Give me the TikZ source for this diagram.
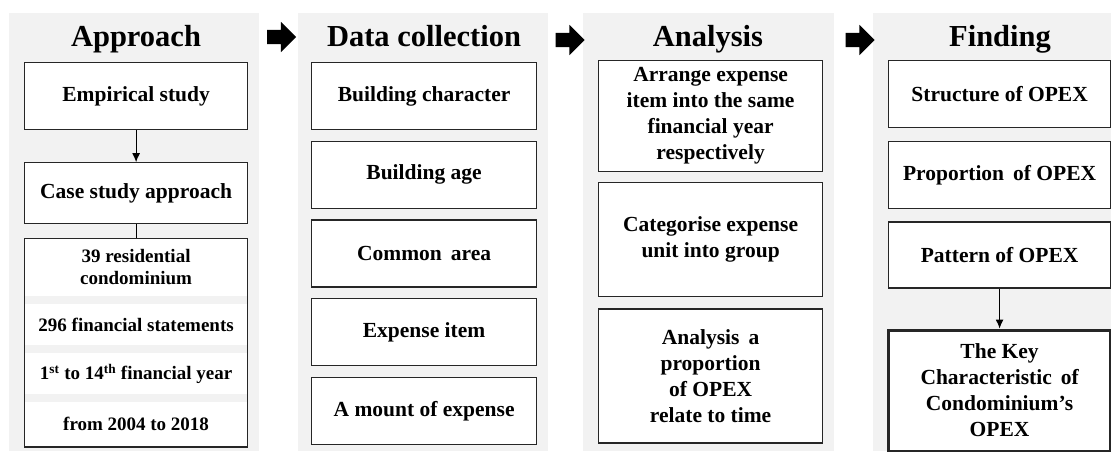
\documentclass[tikz,border=0pt]{standalone}
\usepackage{fontspec}
\setmainfont{Liberation Serif}
\definecolor{panelgray}{RGB}{242,242,242}
\tikzstyle{panel}=[rectangle,fill=panelgray,inner sep=0pt,anchor=north west]
\tikzstyle{title}=[font=\fontsize{30.5}{34}\selectfont\bfseries,anchor=base]
\tikzstyle{box}=[rectangle,draw=black!85,line width=1.2pt,fill=white,
align=center,inner sep=2pt,font=\fontsize{21.5}{26}\selectfont\bfseries]
\tikzstyle{keybox}=[box,line width=3pt]
\tikzstyle{row}=[rectangle,fill=white,align=center,inner sep=2pt,
minimum width=223pt,font=\fontsize{19}{22}\selectfont\bfseries]
\tikzstyle{flow}=[single arrow,fill=black,inner sep=7pt,
single arrow head extend=8pt,minimum height=29pt]
\tikzstyle{link}=[-{Latex[length=9pt,width=8pt]},line width=1.2pt]
\usetikzlibrary{arrows.meta,positioning,shapes.arrows,fit}

\begin{document}
\begin{tikzpicture}[x=1pt,y=-1pt,node distance=10pt]
            \useasboundingbox (0,0) rectangle (1111,452);

            % PANELS
            \node[panel,minimum width=250pt,minimum height=438pt] (bg1) at (9,13) {};
            \node[panel,minimum width=250pt,minimum height=438pt] (bg2) at (298,13) {};
            \node[panel,minimum width=251pt,minimum height=438pt] (bg3) at (583,13) {};
            \node[panel,minimum width=238pt,minimum height=438pt] (bg4) at (873,13) {};

            \node[flow] (go1) at (278,37) {};
            \node[flow] (go2) at (566.5,40) {};
            \node[flow] (go3) at (856.5,40) {};

            % APPROACH PART

            \node[title] (tapp) at (136,47) {Approach};
            \node[box,anchor=north west,minimum width=223pt,minimum height=67pt] (emp) at (24,62) {Empirical study};
            \node[box,below=32pt of emp,minimum width=223pt,minimum height=61pt] (case) {Case study approach};
            \node[row,below=14pt of case,minimum height=57pt] (r1) {39 residential\\condominium};
            \node[row,below=8pt of r1,minimum height=41pt] (r2) {296 financial statements};
            \node[row,below=8pt of r2,minimum height=41pt] (r3) {1\textsuperscript{st} to 14\textsuperscript{th} financial year};
            \node[row,below=7pt of r3,minimum height=45pt] (r4) {from 2004 to 2018};
            \node[draw=black!85,line width=1.2pt,inner sep=0pt,fit=(r1)(r4)] (facts) {};

            \path[link] (emp) edge node {} (case);
            \path[line width=1.2pt] (case) edge node {} (facts);

            % DATA COLLECTION PART

            \node[title] (tdat) at (424,47) {Data collection};
            \node[box,anchor=north west,minimum width=225pt,minimum height=67pt] (dc1) at (311,62) {Building character};
            \node[box,below=10.5pt of dc1,minimum width=225pt,minimum height=67pt] (dc2) {Building age};
            \node[box,below=10.5pt of dc2,minimum width=225pt,minimum height=67pt] (dc3) {Common\, area};
            \node[box,below=10.5pt of dc3,minimum width=225pt,minimum height=67pt] (dc4) {Expense item};
            \node[box,below=10.5pt of dc4,minimum width=225pt,minimum height=67pt] (dc5) {A mount of expense};

            % ANALYSIS PART

            \node[title] (tana) at (708,47) {Analysis};
            \node[box,anchor=north west,minimum width=224pt,minimum height=111pt] (an1) at (598,60) {Arrange expense\\item into the same\\financial year\\respectively};
            \node[box,below=10pt of an1,minimum width=224pt,minimum height=114pt] (an2) {Categorise expense\\unit into group};
            \node[box,below=11pt of an2,minimum width=224pt,minimum height=134pt] (an3) {Analysis\, a\\proportion\\of OPEX\\relate to time};

            % FINDING PART

            \node[title] (tfin) at (1000,47) {Finding};
            \node[box,anchor=north west,minimum width=222pt,minimum height=67pt] (fd1) at (888,60) {Structure of OPEX};
            \node[box,below=13pt of fd1,minimum width=222pt,minimum height=67pt] (fd2) {Proportion\, of OPEX};
            \node[box,below=12pt of fd2,minimum width=222pt,minimum height=66pt] (fd3) {Pattern of OPEX};
            \node[keybox,below=40pt of fd3,minimum width=222pt,minimum height=121pt] (key) {The Key\\Characteristic\, of\\Condominium's\\OPEX};

            \path[link] (fd3) edge node {} (key);

        \end{tikzpicture}
\end{document}
